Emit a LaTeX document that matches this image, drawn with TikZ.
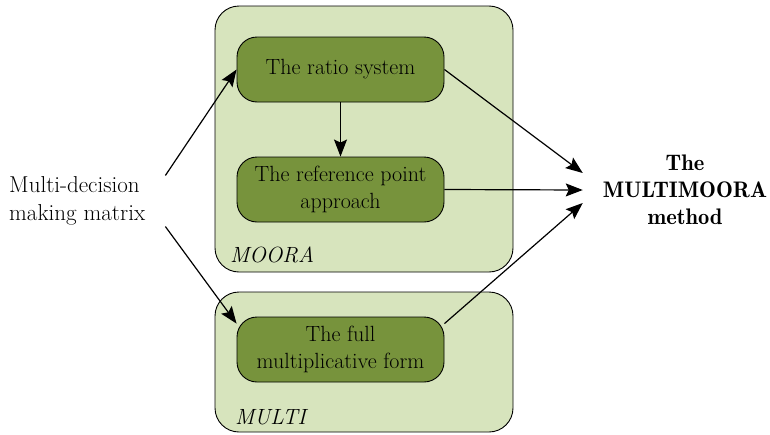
\documentclass[tikz,border=0pt]{standalone}
\usepackage{xcolor}
\usepackage{tikz}
\usetikzlibrary{arrows.meta,positioning}
\definecolor{oliveDark}{HTML}{77933C}
\definecolor{oliveLight}{HTML}{D7E4BD}

\begin{document}
\begin{tikzpicture}[x=1pt,y=-1pt,
                    font=\fontsize{22}{27}\selectfont,
                    group/.style={draw, line width=0.9pt, fill=oliveLight, rounded corners=24pt, inner sep=0pt},
                    stage/.style={draw, line width=0.9pt, fill=oliveDark, rounded corners=20pt,
                                  minimum width=207pt, minimum height=65pt, align=center, inner sep=2pt},
                    link/.style={line width=1.2pt, -{Stealth[length=17pt,width=13pt,inset=3pt]}},
                    plain/.style={align=center, inner ysep=1pt, inner xsep=20pt},
                    tag/.style={anchor=west, inner sep=0pt, font=\itshape\fontsize{22}{27}\selectfont},
                   ]

\useasboundingbox (0,0) rectangle (770,434);

% the two groups
\node[group, minimum width=298pt, minimum height=266pt] (moora) at (364,139) {};
\node[group, minimum width=298pt, minimum height=140pt] (multi) at (364,362) {};
\node[tag] (mooratag) at (230,255) {MOORA};
\node[tag] (multitag) at (235,417) {MULTI};

% stages
\node[stage] (ratio) at (340.5,69.5) {The ratio system};
\node[stage] (refpoint) at (340.5,189.5) {The reference point\\approach};
\node[stage] (fullmult) at (340.5,349.5) {The full\\multiplicative form};

% input and result
\node[plain, align=left, anchor=west, font=\fontsize{23}{28}\selectfont] (mdmm) at (-11,201) {Multi-decision\\making matrix};
\node[plain, font=\fontseries{b}\selectfont\fontsize{22.5}{27}\selectfont] (method) at (685,190) {The\\MULTIMOORA\\method};

\draw[link] (mdmm.north east) -- (ratio.west);
\draw[link] (mdmm.south east) -- (fullmult.166);
\draw[link] (ratio.south) -- (refpoint.north);
\draw[link] (ratio.east) -- ([yshift=17pt]method.west);
\draw[link] (refpoint.east) -- (method.west);
\draw[link] (fullmult.14) -- ([yshift=-13pt]method.west);

\end{tikzpicture}
\end{document}
